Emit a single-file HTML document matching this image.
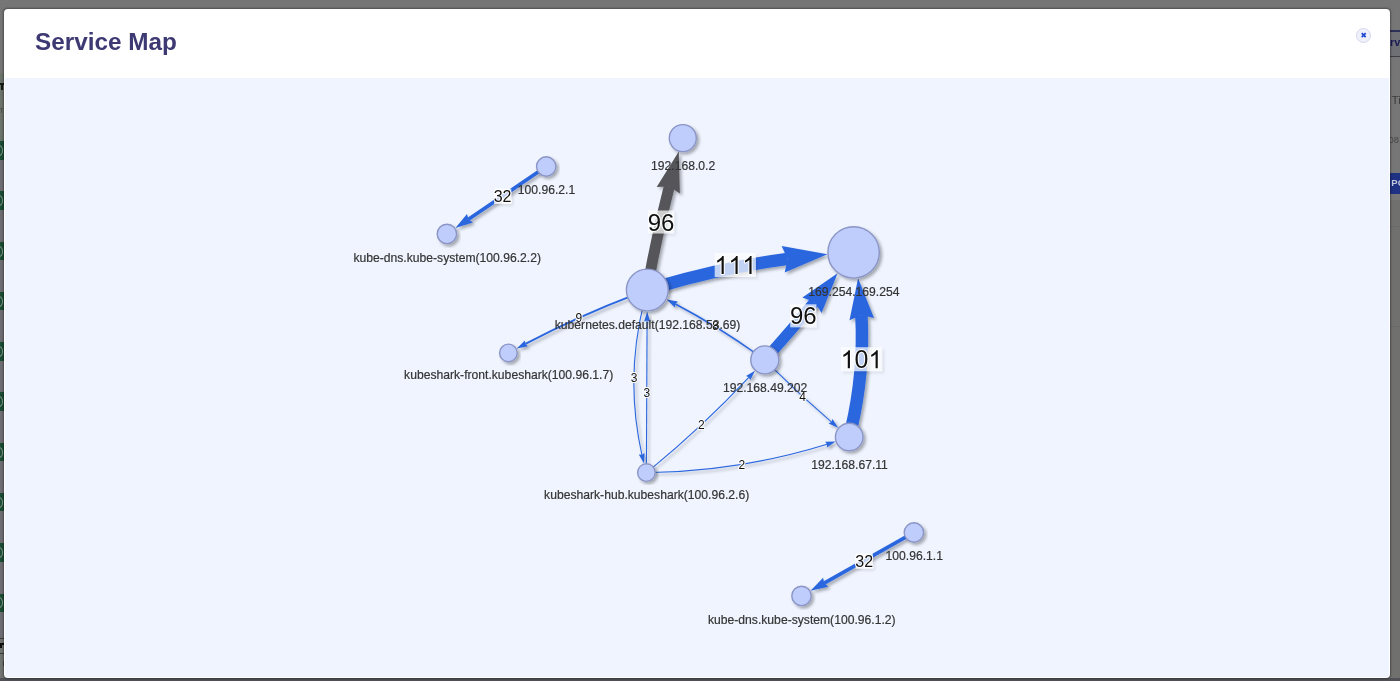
<!DOCTYPE html>
<html><head><meta charset="utf-8"><title>Service Map</title>
<style>
html,body{margin:0;padding:0;}
body{width:1400px;height:681px;overflow:hidden;background:#767676;font-family:"Liberation Sans",sans-serif;position:relative;}
.bg{position:absolute;left:0;top:0;width:1400px;height:681px;overflow:hidden;}
.bg div{position:absolute;}
.modal{position:absolute;left:3.9px;top:8.8px;width:1386.1px;height:669.2px;background:#ffffff;border-radius:4px;overflow:hidden;box-shadow:0 0 2px 0.5px rgba(0,0,0,0.35);}
.body{position:absolute;left:1.4px;right:1.3px;top:69.1px;bottom:1.3px;background:#eff4ff;border-radius:0 0 3px 3px;}
.title{position:absolute;left:31.1px;top:18.6px;font-size:24.3px;font-weight:bold;color:#3c3973;line-height:30px;white-space:nowrap;}
.close{position:absolute;left:1352.2px;top:19.0px;width:13px;height:13px;border-radius:50%;background:#f0f0fa;border:1px solid #d6d6ec;}
svg{position:absolute;left:0;top:0;opacity:0.999;}
.modal,.bg{opacity:0.999;}
text{font-family:"Liberation Sans",sans-serif;}
</style></head><body>
<div class="bg">
<div style="left:0;top:73px;width:4px;height:68px;background:#6b736b;"></div>
<div style="left:0;top:141px;width:4px;height:500px;background:#6e6d73;"></div>
<div style="left:0;top:638px;width:4px;height:43px;background:#70736f;"></div>
<div style="left:0;top:83.2px;width:3.8px;height:1.8px;background:#151a15;"></div><div style="left:0.9px;top:83.2px;width:2.4px;height:6.8px;background:#151a15;"></div>
<div style="left:0;top:107.6px;width:3px;height:1.4px;background:#505454;"></div><div style="left:0.6px;top:108px;width:1.3px;height:4.6px;background:#505454;"></div>

<div style="left:0;top:141.2px;width:4px;height:18.6px;background:#1a4d33;"></div>
<div style="left:-5.5px;top:145.0px;width:6px;height:9px;border:1.4px solid #8b9a92;border-radius:50%;"></div>
<div style="left:0;top:191.4px;width:4px;height:18.6px;background:#1a4d33;"></div>
<div style="left:-5.5px;top:195.2px;width:6px;height:9px;border:1.4px solid #8b9a92;border-radius:50%;"></div>
<div style="left:0;top:241.7px;width:4px;height:18.6px;background:#1a4d33;"></div>
<div style="left:-5.5px;top:245.5px;width:6px;height:9px;border:1.4px solid #8b9a92;border-radius:50%;"></div>
<div style="left:0;top:291.9px;width:4px;height:18.6px;background:#1a4d33;"></div>
<div style="left:-5.5px;top:295.8px;width:6px;height:9px;border:1.4px solid #8b9a92;border-radius:50%;"></div>
<div style="left:0;top:342.2px;width:4px;height:18.6px;background:#1a4d33;"></div>
<div style="left:-5.5px;top:346.0px;width:6px;height:9px;border:1.4px solid #8b9a92;border-radius:50%;"></div>
<div style="left:0;top:392.4px;width:4px;height:18.6px;background:#1a4d33;"></div>
<div style="left:-5.5px;top:396.2px;width:6px;height:9px;border:1.4px solid #8b9a92;border-radius:50%;"></div>
<div style="left:0;top:442.7px;width:4px;height:18.6px;background:#1a4d33;"></div>
<div style="left:-5.5px;top:446.5px;width:6px;height:9px;border:1.4px solid #8b9a92;border-radius:50%;"></div>
<div style="left:0;top:492.9px;width:4px;height:18.6px;background:#1a4d33;"></div>
<div style="left:-5.5px;top:496.8px;width:6px;height:9px;border:1.4px solid #8b9a92;border-radius:50%;"></div>
<div style="left:0;top:543.2px;width:4px;height:18.6px;background:#1a4d33;"></div>
<div style="left:-5.5px;top:547.0px;width:6px;height:9px;border:1.4px solid #8b9a92;border-radius:50%;"></div>
<div style="left:0;top:593.5px;width:4px;height:18.6px;background:#1a4d33;"></div>
<div style="left:-5.5px;top:597.2px;width:6px;height:9px;border:1.4px solid #8b9a92;border-radius:50%;"></div>
<div style="left:0;top:638px;width:4px;height:1px;background:#3a3c3a;"></div>
<div style="left:0;top:653px;width:4px;height:1px;background:#3a3c3a;"></div>
<div style="left:0;top:643.2px;width:3.5px;height:2px;background:#0e0e0e;"></div><div style="left:0;top:645px;width:1.6px;height:2.8px;background:#0e0e0e;"></div>
<div style="left:2.6px;top:660.5px;width:1.2px;height:5.5px;background:#45484a;"></div>
<div style="left:1390px;top:29.6px;width:11px;height:27.4px;background:#6f7076;border-top:2px solid #2c3057;border-bottom:1.6px solid #3f4045;box-sizing:border-box;"></div>
<div style="left:1389.9px;top:36.1px;font-size:11px;font-weight:bold;color:#181b55;line-height:13px;white-space:nowrap;">rv</div>
<div style="left:1391.4px;top:93.4px;font-size:11.8px;color:#3c3c3c;line-height:14px;white-space:nowrap;">Ti</div>
<div style="left:1388.6px;top:132.6px;font-size:9.4px;color:#474747;line-height:13px;white-space:nowrap;">08</div>
<div style="left:1390px;top:172.8px;width:11px;height:21.2px;background:#1f3183;"></div>
<div style="left:1391.3px;top:176.4px;font-size:9.5px;font-weight:bold;color:#c3c9df;line-height:13px;white-space:nowrap;">PO</div>
<div style="left:1390px;top:200px;width:10px;height:481px;background:#70716f;"></div>
<div style="left:1390px;top:226px;width:10px;height:1px;background:#68696b;"></div>
<div style="left:1390px;top:326px;width:10px;height:1px;background:#68696b;"></div>
<div style="left:0;top:678px;width:1400px;height:3px;background:#505257;"></div>
</div>
<div class="modal">
<div class="body"></div>
<div class="title">Service Map</div>
<div class="close"></div>
</div>
<svg width="1400" height="681" viewBox="0 0 1400 681">
<defs>
<filter id="sh" x="-20%" y="-20%" width="140%" height="140%"><feDropShadow dx="2.2" dy="2.2" stdDeviation="1.8" flood-color="#000" flood-opacity="0.32"/></filter>
<filter id="sh2" x="-20%" y="-20%" width="140%" height="140%"><feDropShadow dx="2" dy="2" stdDeviation="1.5" flood-color="#000" flood-opacity="0.12"/></filter>
</defs>
<path d="M1361.7,33.2 L1365.7,37.2 M1365.7,33.2 L1361.7,37.2" stroke="#2249d6" stroke-width="1.8" fill="none"/>

<g filter="url(#sh)"><path d="M541.4,169.8 Q504.9,194.5 468.5,219.3" fill="none" stroke="#2b66de" stroke-width="3.6"/><polygon points="455.4,228.1 467.0,213.9 468.5,219.3 472.9,222.6" fill="#2b66de"/></g>
<g filter="url(#sh)"><path d="M649.4,277.6 Q657.6,231.5 669.3,186.4" fill="none" stroke="#57575a" stroke-width="11.0"/><polygon points="678.8,151.6 679.9,193.4 669.3,186.4 656.7,187.1" fill="#57575a"/></g>
<g filter="url(#sh)"><path d="M659.3,286.3 Q722.5,267.5 787.6,258.8" fill="none" stroke="#2b66de" stroke-width="12.4"/><polygon points="827.4,254.3 784.7,272.6 787.6,258.8 781.6,246.1" fill="#2b66de"/></g>
<g filter="url(#sh)"><path d="M770.4,353.7 Q793.1,328.3 814.5,302.1" fill="none" stroke="#2b66de" stroke-width="11.0"/><polygon points="837.6,273.3 821.6,313.0 814.5,302.1 802.4,297.6" fill="#2b66de"/></g>
<g filter="url(#sh)"><path d="M851.2,429.0 Q864.5,372.1 861.4,315.1" fill="none" stroke="#2b66de" stroke-width="12.5"/><polygon points="858.1,278.3 874.0,318.0 861.4,315.1 849.5,320.3" fill="#2b66de"/></g>
<g filter="url(#sh)"><path d="M635.6,294.4 Q579.1,315.9 525.4,343.8" fill="none" stroke="#2b66de" stroke-width="1.9"/><polygon points="516.7,348.4 524.9,340.4 525.4,343.8 527.9,346.2" fill="#2b66de"/></g>
<g filter="url(#sh)"><path d="M758.0,355.0 Q718.5,326.7 675.4,304.0" fill="none" stroke="#2b66de" stroke-width="1.5"/><polygon points="666.6,299.5 677.9,301.6 675.4,304.0 674.9,307.4" fill="#2b66de"/></g>
<g filter="url(#sh)"><path d="M644.0,302.1 Q624.8,378.3 641.9,454.8" fill="none" stroke="#2b66de" stroke-width="1.1"/><polygon points="644.0,463.5 638.8,454.5 641.9,454.8 644.6,453.1" fill="#2b66de"/></g>
<g filter="url(#sh)"><path d="M646.4,467.3 Q646.8,394.0 647.1,320.5" fill="none" stroke="#2b66de" stroke-width="1.1"/><polygon points="647.2,311.5 650.1,321.5 647.1,320.5 644.1,321.5" fill="#2b66de"/></g>
<g filter="url(#sh)"><path d="M650.5,469.3 Q702.6,426.5 748.8,377.3" fill="none" stroke="#2b66de" stroke-width="1.1"/><polygon points="755.0,370.7 750.3,380.1 748.8,377.3 746.0,376.0" fill="#2b66de"/></g>
<g filter="url(#sh)"><path d="M770.7,365.9 Q799.9,395.0 831.3,421.9" fill="none" stroke="#2b66de" stroke-width="1.1"/><polygon points="838.1,427.8 828.6,423.6 831.3,421.9 832.5,419.0" fill="#2b66de"/></g>
<g filter="url(#sh)"><path d="M651.7,472.5 Q741.5,470.9 827.0,444.3" fill="none" stroke="#2b66de" stroke-width="1.1"/><polygon points="835.6,441.6 826.9,447.5 827.0,444.3 825.1,441.8" fill="#2b66de"/></g>
<g filter="url(#sh)"><path d="M908.8,535.4 Q866.5,559.2 824.2,583.1" fill="none" stroke="#2b66de" stroke-width="3.6"/><polygon points="810.5,590.8 823.1,577.7 824.2,583.1 828.3,586.8" fill="#2b66de"/></g>
<rect x="494.0" y="188.6" width="17.3" height="15.4" fill="#ffffff" fill-opacity="0.7" filter="url(#sh2)"/>
<text x="502.6" y="202.0" font-size="16" text-anchor="middle" fill="#111" stroke="#ffffff" stroke-width="2" paint-order="stroke" stroke-linejoin="round">32</text>
<rect x="647.9" y="210.5" width="26.2" height="23.0" fill="#ffffff" fill-opacity="0.7" filter="url(#sh2)"/>
<text x="661.0" y="230.6" font-size="24" text-anchor="middle" fill="#111" stroke="#ffffff" stroke-width="2" paint-order="stroke" stroke-linejoin="round">96</text>
<rect x="714.7" y="253.0" width="41.2" height="24.0" fill="#ffffff" fill-opacity="0.7" filter="url(#sh2)"/>
<path d="M763 0H583V1147Q518 1085 412.5 1023T223 930V1104Q374 1175 487 1276T647 1472H763V0Z" transform="translate(714.44,273.95) scale(0.01221,-0.01221)" fill="#111" stroke="#ffffff" stroke-width="164" paint-order="stroke" stroke-linejoin="round"/>
<path d="M763 0H583V1147Q518 1085 412.5 1023T223 930V1104Q374 1175 487 1276T647 1472H763V0Z" transform="translate(728.35,273.95) scale(0.01221,-0.01221)" fill="#111" stroke="#ffffff" stroke-width="164" paint-order="stroke" stroke-linejoin="round"/>
<path d="M763 0H583V1147Q518 1085 412.5 1023T223 930V1104Q374 1175 487 1276T647 1472H763V0Z" transform="translate(742.25,273.95) scale(0.01221,-0.01221)" fill="#111" stroke="#ffffff" stroke-width="164" paint-order="stroke" stroke-linejoin="round"/>
<rect x="790.2" y="304.3" width="26.2" height="23.0" fill="#ffffff" fill-opacity="0.7" filter="url(#sh2)"/>
<text x="803.3" y="324.4" font-size="24" text-anchor="middle" fill="#111" stroke="#ffffff" stroke-width="2" paint-order="stroke" stroke-linejoin="round">96</text>
<rect x="840.9" y="347.2" width="41.2" height="24.0" fill="#ffffff" fill-opacity="0.7" filter="url(#sh2)"/>
<path d="M763 0H583V1147Q518 1085 412.5 1023T223 930V1104Q374 1175 487 1276T647 1472H763V0Z" transform="translate(840.64,368.15) scale(0.01221,-0.01221)" fill="#111" stroke="#ffffff" stroke-width="164" paint-order="stroke" stroke-linejoin="round"/>
<text x="854.55" y="368.15" font-size="25" fill="#111" stroke="#ffffff" stroke-width="2" paint-order="stroke" stroke-linejoin="round">0</text>
<path d="M763 0H583V1147Q518 1085 412.5 1023T223 930V1104Q374 1175 487 1276T647 1472H763V0Z" transform="translate(868.45,368.15) scale(0.01221,-0.01221)" fill="#111" stroke="#ffffff" stroke-width="164" paint-order="stroke" stroke-linejoin="round"/>
<text x="578.9" y="321.8" font-size="12" text-anchor="middle" fill="#111" stroke="#ffffff" stroke-width="2" paint-order="stroke" stroke-linejoin="round">9</text>
<text x="715.5" y="330.1" font-size="12" text-anchor="middle" fill="#111" stroke="#ffffff" stroke-width="2" paint-order="stroke" stroke-linejoin="round">8</text>
<text x="634.2" y="382.2" font-size="12" text-anchor="middle" fill="#111" stroke="#ffffff" stroke-width="2" paint-order="stroke" stroke-linejoin="round">3</text>
<text x="646.9" y="396.9" font-size="12" text-anchor="middle" fill="#111" stroke="#ffffff" stroke-width="2" paint-order="stroke" stroke-linejoin="round">3</text>
<text x="701.3" y="428.9" font-size="12" text-anchor="middle" fill="#111" stroke="#ffffff" stroke-width="2" paint-order="stroke" stroke-linejoin="round">2</text>
<text x="802.6" y="400.8" font-size="12" text-anchor="middle" fill="#111" stroke="#ffffff" stroke-width="2" paint-order="stroke" stroke-linejoin="round">4</text>
<text x="741.8" y="469.1" font-size="12" text-anchor="middle" fill="#111" stroke="#ffffff" stroke-width="2" paint-order="stroke" stroke-linejoin="round">2</text>
<rect x="855.6" y="553.5" width="17.3" height="15.4" fill="#ffffff" fill-opacity="0.7" filter="url(#sh2)"/>
<text x="864.2" y="566.9" font-size="16" text-anchor="middle" fill="#111" stroke="#ffffff" stroke-width="2" paint-order="stroke" stroke-linejoin="round">32</text>
<circle cx="682.8" cy="138.1" r="13.5" fill="#becdfb" stroke="#8b95c6" stroke-width="1.4" filter="url(#sh)"/>
<circle cx="546.2" cy="166.5" r="9.7" fill="#becdfb" stroke="#8b95c6" stroke-width="1.4" filter="url(#sh)"/>
<circle cx="446.9" cy="233.9" r="9.7" fill="#becdfb" stroke="#8b95c6" stroke-width="1.4" filter="url(#sh)"/>
<circle cx="647.3" cy="290.0" r="20.9" fill="#becdfb" stroke="#8b95c6" stroke-width="1.4" filter="url(#sh)"/>
<circle cx="853.6" cy="252.4" r="25.7" fill="#becdfb" stroke="#8b95c6" stroke-width="1.4" filter="url(#sh)"/>
<circle cx="764.8" cy="359.9" r="14.0" fill="#becdfb" stroke="#8b95c6" stroke-width="1.4" filter="url(#sh)"/>
<circle cx="508.4" cy="352.9" r="8.8" fill="#becdfb" stroke="#8b95c6" stroke-width="1.4" filter="url(#sh)"/>
<circle cx="849.2" cy="437.0" r="13.8" fill="#becdfb" stroke="#8b95c6" stroke-width="1.4" filter="url(#sh)"/>
<circle cx="646.4" cy="472.6" r="8.8" fill="#becdfb" stroke="#8b95c6" stroke-width="1.4" filter="url(#sh)"/>
<circle cx="913.9" cy="532.5" r="9.7" fill="#becdfb" stroke="#8b95c6" stroke-width="1.4" filter="url(#sh)"/>
<circle cx="801.5" cy="595.9" r="9.7" fill="#becdfb" stroke="#8b95c6" stroke-width="1.4" filter="url(#sh)"/>
<text x="683.1" y="169.7" font-size="12.15" text-anchor="middle" fill="#343434" stroke="#343434" stroke-width="0.2">192.168.0.2</text>
<text x="546.5" y="194.3" font-size="12.15" text-anchor="middle" fill="#343434" stroke="#343434" stroke-width="0.2">100.96.2.1</text>
<text x="447.2" y="261.7" font-size="12.15" text-anchor="middle" fill="#343434" stroke="#343434" stroke-width="0.2">kube-dns.kube-system(100.96.2.2)</text>
<text x="647.6" y="329.0" font-size="12.15" text-anchor="middle" fill="#343434" stroke="#343434" stroke-width="0.2">kubernetes.default(192.168.53.69)</text>
<text x="853.9" y="296.2" font-size="12.15" text-anchor="middle" fill="#343434" stroke="#343434" stroke-width="0.2">169.254.169.254</text>
<text x="765.1" y="392.0" font-size="12.15" text-anchor="middle" fill="#343434" stroke="#343434" stroke-width="0.2">192.168.49.202</text>
<text x="508.7" y="379.2" font-size="12.15" text-anchor="middle" fill="#343434" stroke="#343434" stroke-width="0.2">kubeshark-front.kubeshark(100.96.1.7)</text>
<text x="849.5" y="468.9" font-size="12.15" text-anchor="middle" fill="#343434" stroke="#343434" stroke-width="0.2">192.168.67.11</text>
<text x="646.7" y="498.9" font-size="12.15" text-anchor="middle" fill="#343434" stroke="#343434" stroke-width="0.2">kubeshark-hub.kubeshark(100.96.2.6)</text>
<text x="914.2" y="560.3" font-size="12.15" text-anchor="middle" fill="#343434" stroke="#343434" stroke-width="0.2">100.96.1.1</text>
<text x="801.8" y="623.7" font-size="12.15" text-anchor="middle" fill="#343434" stroke="#343434" stroke-width="0.2">kube-dns.kube-system(100.96.1.2)</text>
</svg>
</body></html>
